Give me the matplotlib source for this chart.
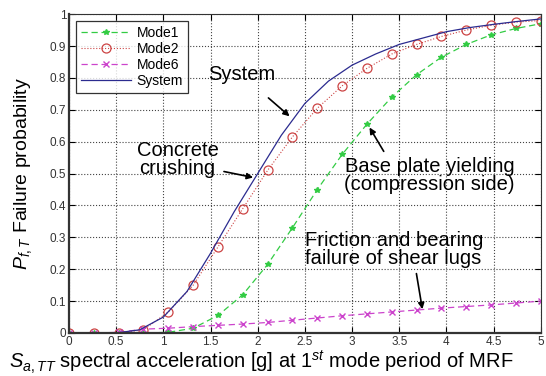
import numpy as np
import matplotlib
matplotlib.use("Agg")
import matplotlib.pyplot as plt

plt.rcParams['font.family'] = ['Liberation Sans', 'DejaVu Sans']
plt.rcParams['mathtext.fontset'] = 'custom'
plt.rcParams['mathtext.it'] = 'Liberation Sans:italic'
plt.rcParams['mathtext.rm'] = 'Liberation Sans'

# x grid of markers
x_pts = [0.0, 0.263, 0.526, 0.789, 1.053, 1.316, 1.579, 1.842, 2.105, 2.368,
         2.632, 2.895, 3.158, 3.421, 3.684, 3.947, 4.211, 4.474, 4.737, 5.0]

mode1 = [0, 0, 0, 0, 0.002, 0.015, 0.055, 0.12, 0.215, 0.33,
         0.45, 0.56, 0.655, 0.74, 0.81, 0.865, 0.905, 0.935, 0.955, 0.97]
mode2 = [0, 0, 0, 0.01, 0.066, 0.15, 0.27, 0.39, 0.51, 0.615,
         0.705, 0.775, 0.83, 0.875, 0.905, 0.93, 0.95, 0.965, 0.975, 0.98]
mode6 = [0, 0, 0.002, 0.012, 0.015, 0.02, 0.024, 0.028, 0.033, 0.04,
         0.047, 0.054, 0.06, 0.066, 0.072, 0.078, 0.083, 0.088, 0.094, 0.1]

x_sys = [0, 0.25, 0.5, 0.75, 1.0, 1.25, 1.5, 1.75, 2.0, 2.25, 2.5, 2.75,
         3.0, 3.25, 3.5, 3.75, 4.0, 4.25, 4.5, 4.75, 5.0]
system = [0, 0, 0, 0.01, 0.05, 0.13, 0.25, 0.38, 0.50, 0.62, 0.72, 0.79,
          0.84, 0.875, 0.905, 0.925, 0.945, 0.958, 0.968, 0.977, 0.985]

xticks = [0, 0.5, 1, 1.5, 2, 2.5, 3, 3.5, 4, 4.5, 5]
xticklabels = ['0', '0.5', '1', '1.5', '2', '2.5', '3', '3.5', '4', '4.5', '5']
yticks = [0, 0.1, 0.2, 0.3, 0.4, 0.5, 0.6, 0.7, 0.8, 0.9, 1]
yticklabels = ['0', '0.1', '0.2', '0.3', '0.4', '0.5', '0.6', '0.7', '0.8', '0.9', '1']

fig = plt.figure(figsize=(5.46, 3.76), dpi=100)
ax = fig.add_axes([0.1264, 0.1144, 0.864, 0.848])

ax.plot(x_pts, mode1, color='#33cc44', ls='--', lw=0.9, marker='*', ms=4,
        label='Mode1', dashes=(5, 3))
ax.plot(x_pts, mode2, color='#cc4444', ls=':', lw=0.8, marker='o', ms=6.5,
        mfc='none', mew=0.9, label='Mode2')
ax.plot(x_pts, mode6, color='#cc44cc', ls='--', lw=0.9, marker='x', ms=4,
        label='Mode6', dashes=(5, 3))
ax.plot(x_sys, system, color='#2b2b8f', ls='-', lw=0.9, label='System')

ax.set_xlim(0, 5)
ax.set_ylim(0, 1)
ax.set_xticks(xticks)
ax.set_xticklabels(xticklabels)
ax.set_yticks(yticks)
ax.set_yticklabels(yticklabels)
ax.tick_params(direction='in', top=True, right=True, labelsize=8.5,
               labelcolor='#333333', length=4, pad=2)
ax.grid(True, ls=':', color='#444444', lw=0.8)
for s in ax.spines.values():
    s.set_color('#333333')
    s.set_linewidth(0.8)
ax.spines['left'].set_linewidth(1.6)
ax.spines['bottom'].set_linewidth(1.6)

ax.set_xlabel(r'$S_{a,TT}$ spectral acceleration [g] at 1$^{st}$ mode period of MRF',
              fontsize=14.5)
ax.xaxis.set_label_coords(-0.128, -0.05, transform=ax.transAxes)
ax.xaxis.label.set_horizontalalignment('left')
ax.set_ylabel(r'$P_{f,T}$ Failure probability', fontsize=14, labelpad=11)

leg = ax.legend(loc='upper left', fontsize=10, frameon=True, fancybox=False,
                edgecolor='black', borderaxespad=0.5, handlelength=3.6,
                handletextpad=0.4, labelspacing=0.15, borderpad=0.35)
leg.get_frame().set_linewidth(0.9)

akw = dict(arrowstyle='-|>', color='black', lw=1.2, mutation_scale=9)
fs = 14.5
ax.annotate('System', xy=(2.36, 0.674), xytext=(1.83, 0.81), fontsize=fs,
            ha='center', va='center', arrowprops=dict(**akw, shrinkA=12))
ax.annotate('Concrete\ncrushing', xy=(1.98, 0.486), xytext=(1.15, 0.545),
            fontsize=fs, ha='center', va='center', linespacing=0.95,
            arrowprops=dict(**akw, shrinkA=2, relpos=(1.0, 0.2)))
ax.annotate('Base plate yielding\n(compression side)', xy=(3.17, 0.652),
            xytext=(3.82, 0.495), fontsize=fs, ha='center', va='center',
            linespacing=0.95,
            arrowprops=dict(**akw, shrinkA=2, relpos=(0.25, 1.0)))
ax.annotate('Friction and bearing\nfailure of shear lugs', xy=(3.75, 0.066),
            xytext=(2.5, 0.262), fontsize=fs, ha='left', va='center',
            linespacing=0.95,
            arrowprops=dict(**akw, shrinkA=2, relpos=(0.62, 0.0)))

fig.savefig('out.png', dpi=100)
